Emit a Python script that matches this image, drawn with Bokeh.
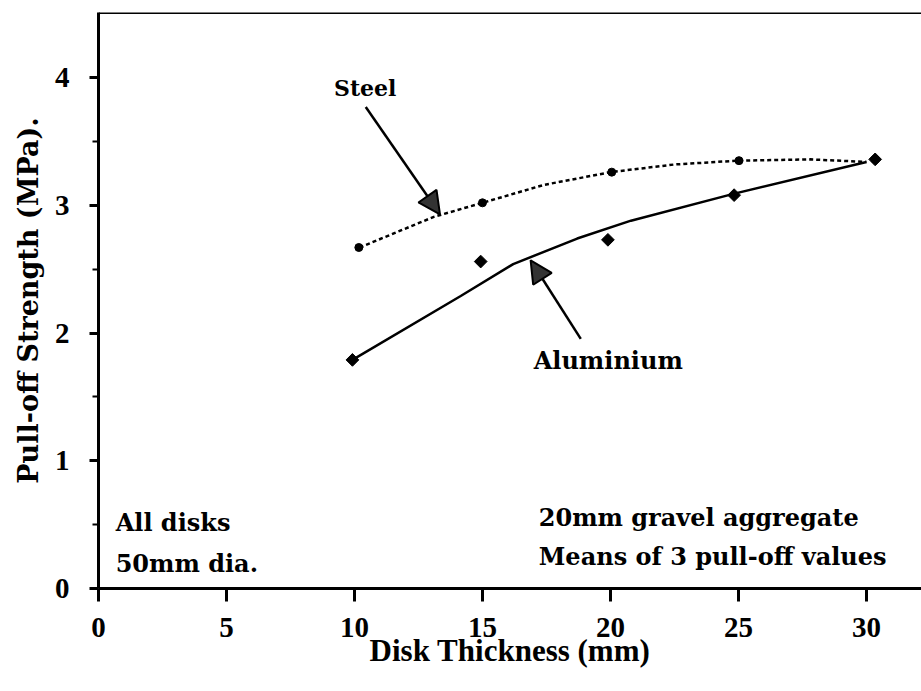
from bokeh.plotting import figure
from bokeh.models import Range1d, FixedTicker, Span, Label, Arrow, NormalHead
from bokeh.embed import file_html
from bokeh.resources import INLINE
import math

# measured data
steel_x = [10.17, 15.0, 20.05, 25.02, 30.34]
steel_y = [2.67, 3.02, 3.26, 3.35, 3.36]
al_x = [9.92, 14.93, 19.9, 24.83, 30.34]
al_y = [1.79, 2.56, 2.73, 3.08, 3.36]

# fitted curves as drawn
steel_fit_x = [10.2, 13.1, 15.0, 17.4, 20.0, 22.5, 25.0, 27.8, 30.0]
steel_fit_y = [2.67, 2.91, 3.02, 3.16, 3.26, 3.32, 3.35, 3.36, 3.34]
al_fit_x = [9.92, 14.15, 16.2, 18.7, 20.8, 24.8, 30.0]
al_fit_y = [1.79, 2.29, 2.54, 2.74, 2.88, 3.09, 3.34]

x_ticks = [0, 5, 10, 15, 20, 25, 30]
y_ticks = [0, 1, 2, 3, 4]
y_minor = [0.5, 1.5, 2.5, 3.5]

ann_text = ["Steel", "Aluminium", "All disks", "50mm dia.",
            "20mm gravel aggregate", "Means of 3 pull-off values"]
ann_x = [9.2, 17.0, 0.67, 0.67, 17.2, 17.2]
ann_y = [3.92, 1.785, 0.517, 0.196, 0.556, 0.254]
ann_size = ["22px", "24px", "24px", "24px", "24px", "24px"]

arrow_x0 = [10.44, 18.84]
arrow_y0 = [3.77, 1.955]
arrow_x1 = [13.34, 16.88]
arrow_y1 = [2.93, 2.57]

XMAX = 32.15
YMAX = 4.51

p = figure(width=921, height=691, output_backend="svg", toolbar_location=None,
           x_range=Range1d(0, XMAX), y_range=Range1d(0, YMAX),
           min_border_left=98, min_border_right=0, min_border_top=12,
           min_border_bottom=103)
p.outline_line_color = None
p.xgrid.visible = False
p.ygrid.visible = False
p.background_fill_color = "white"

serif = "Liberation Serif"
for ax in (p.xaxis[0], p.yaxis[0]):
    ax.axis_line_width = 3
    ax.axis_line_color = "black"
    ax.major_tick_line_width = 3
    ax.minor_tick_line_width = 2
    ax.major_tick_in = 0
    ax.minor_tick_in = 0
    ax.major_label_text_font = serif
    ax.major_label_text_font_style = "bold"
    ax.major_label_text_font_size = "29px"
    ax.major_label_text_color = "black"
    ax.axis_label_text_font_style = "bold"
    ax.axis_label_text_color = "black"

p.xaxis.ticker = FixedTicker(ticks=x_ticks, minor_ticks=[])
p.xaxis.major_tick_out = 13
p.xaxis.major_label_standoff = 16
p.xaxis.axis_label = "Disk Thickness (mm)"
p.xaxis.axis_label_text_font = serif
p.xaxis.axis_label_text_font_size = "31px"
p.xaxis.axis_label_standoff = -7

p.yaxis.ticker = FixedTicker(ticks=y_ticks, minor_ticks=y_minor)
p.yaxis.major_tick_out = 9
p.yaxis.minor_tick_out = 6
p.yaxis.major_label_standoff = 20
p.yaxis.axis_label = "Pull-off Strength (MPa)."
p.yaxis.axis_label_text_font = "DejaVu Serif"
p.yaxis.axis_label_text_font_size = "27px"
p.yaxis.axis_label_standoff = 8

p.add_layout(Span(location=YMAX, dimension="width", line_color="black", line_width=3))

p.line(steel_fit_x, steel_fit_y, line_color="black", line_width=2.5, line_dash="4 3")
p.line(al_fit_x, al_fit_y, line_color="black", line_width=2.5)
p.scatter(steel_x, steel_y, marker="circle", size=8, color="black")
p.scatter(al_x, al_y, marker="square", angle=math.pi / 4, size=9, color="black")

for x0, y0, x1, y1 in zip(arrow_x0, arrow_y0, arrow_x1, arrow_y1):
    p.add_layout(Arrow(end=NormalHead(size=22, fill_color="#333", line_color="black", line_width=2),
                       x_start=x0, y_start=y0, x_end=x1, y_end=y1,
                       line_width=2.5, line_color="black"))

for t, x, y, s in zip(ann_text, ann_x, ann_y, ann_size):
    p.add_layout(Label(x=x, y=y, text=t, text_font="DejaVu Serif", text_font_style="bold",
                       text_font_size=s, text_baseline="middle", text_align="left",
                       text_color="black"))

open("out.html", "w").write(file_html(p, INLINE))
